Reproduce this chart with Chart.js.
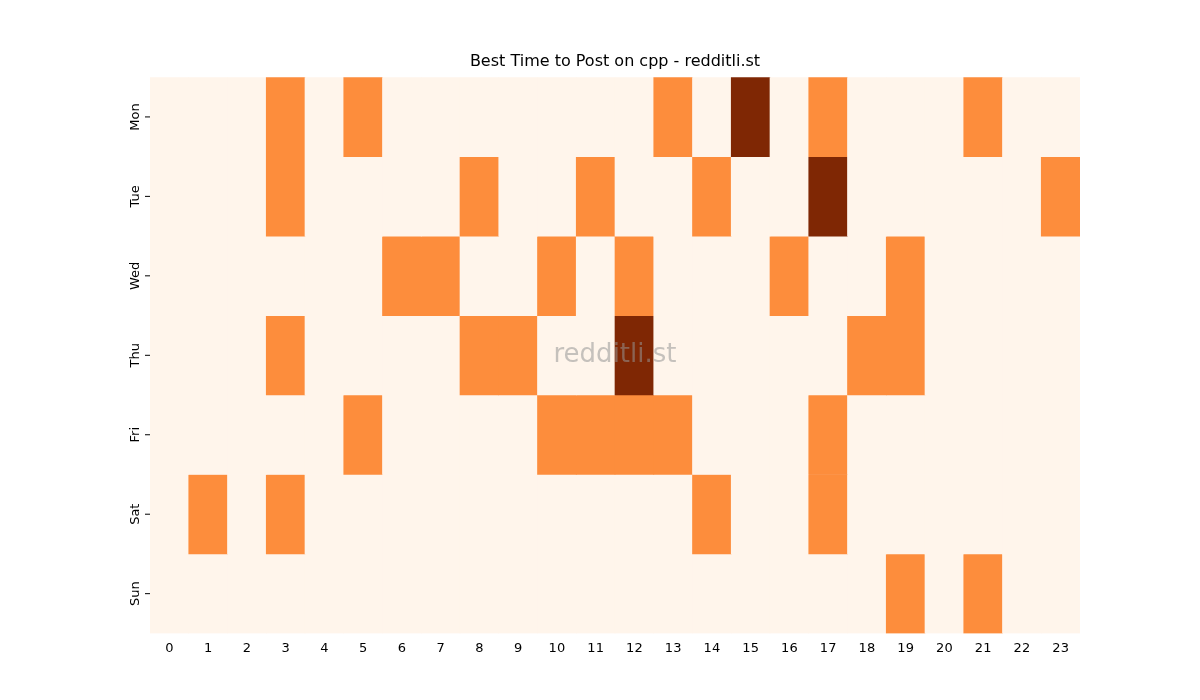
<!DOCTYPE html>
<html><head><meta charset="utf-8">
<script src="https://cdn.jsdelivr.net/npm/chart.js@4/dist/chart.umd.min.js"></script>
<style>html,body{margin:0;background:#fff}#w{width:1200px;height:700px}</style>
</head><body><div id="w"><canvas id="c"></canvas></div>
<script>
const hours = ["0","1","2","3","4","5","6","7","8","9","10","11","12","13","14","15","16","17","18","19","20","21","22","23"];
const days = ["Mon","Tue","Wed","Thu","Fri","Sat","Sun"];
const mon = [0,0,0,1,0,1,0,0,0,0,0,0,0,1,0,2,0,1,0,0,0,1,0,0];
const tue = [0,0,0,1,0,0,0,0,1,0,0,1,0,0,1,0,0,2,0,0,0,0,0,1];
const wed = [0,0,0,0,0,0,1,1,0,0,1,0,1,0,0,0,1,0,0,1,0,0,0,0];
const thu = [0,0,0,1,0,0,0,0,1,1,0,0,2,0,0,0,0,0,1,1,0,0,0,0];
const fri = [0,0,0,0,0,1,0,0,0,0,1,1,1,1,0,0,0,1,0,0,0,0,0,0];
const sat = [0,1,0,1,0,0,0,0,0,0,0,0,0,0,1,0,0,1,0,0,0,0,0,0];
const sun = [0,0,0,0,0,0,0,0,0,0,0,0,0,0,0,0,0,0,0,1,0,1,0,0];
const rows = [mon,tue,wed,thu,fri,sat,sun];
const palette = ["#fff5eb","#fd8d3c","#7f2704"];

const datasets = rows.map((r,i)=>({
  label: days[i],
  data: r.map(()=>[i,i+1]),
  backgroundColor: r.map(v=>palette[v]),
  borderWidth: 0,
  barPercentage: 1, categoryPercentage: 1, grouped:false
}));

const yLabels = {
  id:'yl',
  afterDraw(ch){
    const c=ch.ctx, y=ch.scales.y, a=ch.chartArea;
    c.save(); c.fillStyle='#000'; c.strokeStyle='#000'; c.lineWidth=1;
    c.font='13px "DejaVu Sans"'; c.textAlign='center'; c.textBaseline='bottom';
    days.forEach((d,i)=>{
      const p=y.getPixelForValue(i+0.5);
      c.beginPath(); c.moveTo(a.left,p); c.lineTo(a.left-5,p); c.stroke();
      c.save(); c.translate(a.left-8,p); c.rotate(-Math.PI/2); c.fillText(d,0,0); c.restore();
    });
    c.font='26px "DejaVu Sans"'; c.fillStyle='rgba(150,150,150,0.55)'; c.textBaseline='middle';
    c.fillText('redditli.st',(a.left+a.right)/2,(a.top+a.bottom)/2);
    c.restore();
  }
};

new Chart(document.getElementById('c'),{
  type:'bar',
  data:{labels:hours,datasets},
  options:{
    responsive:true, maintainAspectRatio:false, animation:false,
    layout:{padding:{left:150,right:120,top:52,bottom:42}},
    plugins:{legend:{display:false},tooltip:{enabled:false},
      title:{display:true,text:'Best Time to Post on cpp - redditli.st',color:'#000',
        font:{family:'DejaVu Sans',size:16,weight:'normal'},padding:{top:0,bottom:6}}},
    scales:{
      x:{grid:{display:false,drawTicks:true,tickLength:5,tickColor:'#000'},border:{display:false},
        ticks:{color:'#000',font:{family:'DejaVu Sans',size:13},maxRotation:0,autoSkip:false,padding:2}},
      y:{type:'linear',min:0,max:7,reverse:true,display:false}
    }
  },
  plugins:[yLabels]
});
</script></body></html>
